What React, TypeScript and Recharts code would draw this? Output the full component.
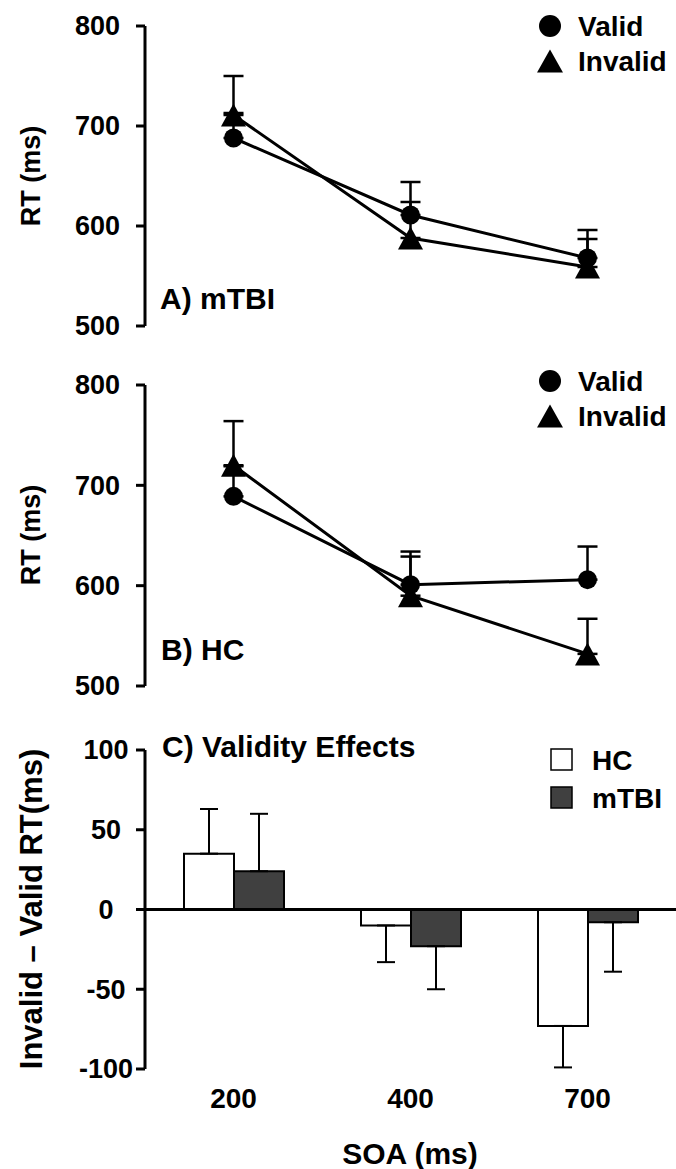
import React from 'react';
import {
  LineChart,
  Line,
  BarChart,
  Bar,
  XAxis,
  YAxis,
  ErrorBar,
  ReferenceLine,
} from 'recharts';

// SOA categories (ms)
const soaLabels = ['200', '400', '700'];

// Panel A: mTBI reaction times
const mtbiValid = [688, 611, 568];
const mtbiValidErr = [25, 33, 28];
const mtbiInvalid = [711, 588, 559];
const mtbiInvalidErr = [39, 36, 28];

// Panel B: HC reaction times
const hcValid = [689, 601, 606];
const hcValidErr = [30, 33, 33];
const hcInvalid = [720, 590, 532];
const hcInvalidErr = [44, 39, 35];

// Panel C: validity effects (invalid - valid)
const effectHC = [35, -10, -73];
const effectHCErr = [28, 23, 26];
const effectMTBI = [24, -23, -8];
const effectMTBIErr = [36, 27, 31];

const rtTicks = [500, 600, 700, 800];
const effectTicks = [-100, -50, 0, 50, 100];

const FONT = "'Liberation Sans', Arial, Helvetica, sans-serif";
const W = 676;

// errors are drawn one way only, away from zero
const oneSided = (v: number, e: number) => (v >= 0 ? [0, e] : [e, 0]);

const rtData = (valid: number[], validErr: number[], invalid: number[], invalidErr: number[]) =>
  soaLabels.map((soa, i) => ({
    soa,
    valid: valid[i],
    validErr: oneSided(valid[i], validErr[i]),
    invalid: invalid[i],
    invalidErr: oneSided(invalid[i], invalidErr[i]),
  }));

const mtbiData = rtData(mtbiValid, mtbiValidErr, mtbiInvalid, mtbiInvalidErr);
const hcData = rtData(hcValid, hcValidErr, hcInvalid, hcInvalidErr);

const effectData = soaLabels.map((soa, i) => ({
  soa,
  hc: effectHC[i],
  hcErr: oneSided(effectHC[i], effectHCErr[i]),
  mtbi: effectMTBI[i],
  mtbiErr: oneSided(effectMTBI[i], effectMTBIErr[i]),
}));

const YTick = (props: any) => {
  const { x, y, payload, anchor = 'end' } = props;
  return (
    <text x={x} y={y} dy="0.35em" textAnchor={anchor} fontFamily={FONT} fontWeight="bold" fontSize={27} fill="#000">
      {payload.value}
    </text>
  );
};

const XTick = (props: any) => {
  const { x, y, payload } = props;
  return (
    <text x={x} y={y} dy="0.35em" textAnchor="middle" fontFamily={FONT} fontWeight="bold" fontSize={28} fill="#000">
      {payload.value}
    </text>
  );
};

const triangle = (cx: number, cy: number, w: number, h: number) =>
  `M${cx - w / 2},${cy + h / 2} L${cx},${cy - h / 2} L${cx + w / 2},${cy + h / 2} Z`;

const TriangleDot = (props: any) => {
  const { cx, cy, index } = props;
  if (cx == null || cy == null) return <g key={`t-${index}`} />;
  return <path key={`t-${index}`} d={triangle(cx, cy, 25, 23)} fill="#000" />;
};

const RTPanel = ({ data, top, height, marginTop }: { data: any[]; top: number; height: number; marginTop: number }) => (
  <div style={{ position: 'absolute', left: 0, top }}>
    <LineChart width={W} height={height} data={data} margin={{ top: marginTop, right: 0, bottom: 14, left: 0 }}>
      <XAxis
        dataKey="soa"
        scale="band"
        height={0}
        tick={false}
        tickLine={false}
        axisLine={{ stroke: '#000', strokeWidth: 3.5 }}
      />
      <YAxis
        width={145}
        domain={[500, 800]}
        ticks={rtTicks}
        interval={0}
        allowDataOverflow
        tick={<YTick />}
        tickSize={9}
        tickMargin={16}
        tickLine={{ stroke: '#000', strokeWidth: 3 }}
        axisLine={{ stroke: '#000', strokeWidth: 3 }}
      />
      <Line
        dataKey="valid"
        stroke="#000"
        strokeWidth={3}
        dot={{ r: 9.5, fill: '#000', stroke: '#000', strokeWidth: 0 }}
        activeDot={false}
        isAnimationActive={false}
      >
        <ErrorBar dataKey="validErr" direction="y" width={10} stroke="#000" strokeWidth={2.5} />
      </Line>
      <Line
        dataKey="invalid"
        stroke="#000"
        strokeWidth={3}
        dot={<TriangleDot />}
        activeDot={false}
        isAnimationActive={false}
      >
        <ErrorBar dataKey="invalidErr" direction="y" width={10} stroke="#000" strokeWidth={2.5} />
      </Line>
    </LineChart>
  </div>
);

const EffectPanel = () => (
  <div style={{ position: 'absolute', left: 0, top: 700 }}>
    <BarChart
      width={W}
      height={469}
      data={effectData}
      margin={{ top: 50, right: 0, bottom: 0, left: 0 }}
      barGap={0}
      barCategoryGap="22%"
    >
      <XAxis
        dataKey="soa"
        height={100}
        tick={<XTick />}
        tickSize={0}
        tickMargin={29}
        tickLine={false}
        axisLine={false}
      />
      <YAxis
        width={145}
        domain={[-100, 100]}
        ticks={effectTicks}
        interval={0}
        tick={<YTick anchor="middle" />}
        tickSize={9}
        tickMargin={30}
        tickLine={{ stroke: '#000', strokeWidth: 3 }}
        axisLine={{ stroke: '#000', strokeWidth: 3 }}
      />
      <Bar dataKey="hc" fill="#ffffff" stroke="#000" strokeWidth={2} barSize={50} isAnimationActive={false}>
        <ErrorBar dataKey="hcErr" direction="y" width={9} stroke="#000" strokeWidth={2} />
      </Bar>
      <Bar dataKey="mtbi" fill="#404040" stroke="#000" strokeWidth={2} barSize={50} isAnimationActive={false}>
        <ErrorBar dataKey="mtbiErr" direction="y" width={9} stroke="#000" strokeWidth={2} />
      </Bar>
      <ReferenceLine y={0} stroke="#000" strokeWidth={3} />
    </BarChart>
  </div>
);

const txt = { fontFamily: FONT, fontWeight: 'bold' as const, fill: '#000' };

const LineLegend = ({ y, gap }: { y: number; gap: number }) => (
  <g>
    <circle cx={550} cy={y} r={11} fill="#000" />
    <text x={578} y={y} dy="0.35em" fontSize={28} {...txt}>Valid</text>
    <path d={triangle(550, y + gap, 26, 23)} fill="#000" />
    <text x={578} y={y + gap} dy="0.35em" fontSize={28} {...txt}>Invalid</text>
  </g>
);

const AxisTitle = ({ x, y, size, children }: { x: number; y: number; size: number; children: React.ReactNode }) => (
  <text x={x} y={y} dy="0.35em" transform={`rotate(-90 ${x} ${y})`} textAnchor="middle" fontSize={size} {...txt}>
    {children}
  </text>
);

export default function App() {
  return (
    <div style={{ position: 'absolute', left: 0, top: 0, width: W, height: 1169, background: '#fff', overflow: 'hidden' }}>
      <RTPanel data={mtbiData} top={0} height={340} marginTop={26} />
      <RTPanel data={hcData} top={350} height={350} marginTop={35} />
      <EffectPanel />
      <svg width={W} height={1169} style={{ position: 'absolute', left: 0, top: 0, pointerEvents: 'none' }}>
        <AxisTitle x={31} y={176} size={27}>RT (ms)</AxisTitle>
        <AxisTitle x={31} y={535} size={27}>RT (ms)</AxisTitle>
        <AxisTitle x={31} y={909} size={31}>Invalid – Valid RT(ms)</AxisTitle>
        <text x={160} y={309} fontSize={30} {...txt}>A) mTBI</text>
        <text x={161} y={660} fontSize={30} {...txt}>B) HC</text>
        <text x={162} y={757} fontSize={30} {...txt}>C) Validity Effects</text>
        <LineLegend y={26} gap={35} />
        <LineLegend y={381} gap={35} />
        <rect x={551} y={749} width={21} height={21} fill="#fff" stroke="#000" strokeWidth={1.5} />
        <text x={592} y={760} dy="0.35em" fontSize={28} {...txt}>HC</text>
        <rect x={551} y={787} width={21} height={21} fill="#404040" stroke="#000" strokeWidth={1.5} />
        <text x={592} y={798} dy="0.35em" fontSize={28} {...txt}>mTBI</text>
        <text x={410} y={1153} dy="0.35em" textAnchor="middle" fontSize={30} {...txt}>SOA (ms)</text>
      </svg>
    </div>
  );
}
